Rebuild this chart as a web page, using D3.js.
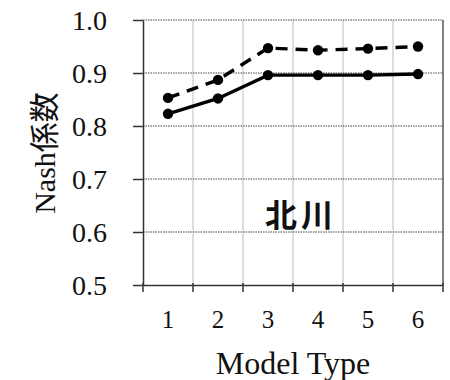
<!DOCTYPE html>
<html>
<head>
<meta charset="utf-8">
<script src="https://cdn.jsdelivr.net/npm/d3@7"></script>
<style>
body { margin: 0; background: #fff; }
</style>
</head>
<body>
<script>
var modelTypes = [1, 2, 3, 4, 5, 6];
var solidValues = [0.823, 0.852, 0.896, 0.896, 0.896, 0.898];
var dashedValues = [0.853, 0.887, 0.947, 0.943, 0.946, 0.950];
var yTicks = [0.5, 0.6, 0.7, 0.8, 0.9, 1.0];

var width = 450, height = 380;
var margin = {top: 20, right: 7, bottom: 95, left: 143};

var svg = d3.select('body').append('svg')
	.attr('width', width).attr('height', height);

var x = d3.scaleBand()
	.domain(modelTypes)
	.range([margin.left, width - margin.right]);
var y = d3.scaleLinear()
	.domain([0.5, 1.0])
	.range([height - margin.bottom, margin.top]);

var serif = '"Liberation Serif", "Times New Roman", serif';

// vertical grid at category boundaries
svg.append('g').selectAll('line')
	.data(modelTypes.slice(1)).enter().append('line')
	.attr('x1', function (d) { return x(d); })
	.attr('x2', function (d) { return x(d); })
	.attr('y1', y(1.0)).attr('y2', y(0.5))
	.attr('stroke', '#c8c8c8').attr('stroke-width', 1.2);

// horizontal dotted grid
svg.append('g').selectAll('line')
	.data(yTicks.slice(1)).enter().append('line')
	.attr('x1', x.range()[0]).attr('x2', x.range()[1])
	.attr('y1', function (d) { return y(d); })
	.attr('y2', function (d) { return y(d); })
	.attr('stroke', '#444').attr('stroke-width', 1)
	.attr('stroke-dasharray', '1.5,1');

// right border
svg.append('line')
	.attr('x1', x.range()[1]).attr('x2', x.range()[1])
	.attr('y1', y(1.0)).attr('y2', y(0.5))
	.attr('stroke', '#555').attr('stroke-width', 1.5);

// y axis
var yAxis = svg.append('g')
	.attr('transform', 'translate(' + margin.left + ',0)')
	.call(d3.axisLeft(y).tickValues(yTicks).tickFormat(d3.format('.1f')).tickSize(10).tickSizeOuter(0));
yAxis.select('.domain').attr('stroke', '#333').attr('stroke-width', 1.5);
yAxis.selectAll('.tick line').attr('stroke', '#333').attr('stroke-width', 1.5);
yAxis.selectAll('.tick text')
	.attr('font-family', serif).attr('font-size', 28).attr('fill', '#111')
	.attr('x', -36).attr('dy', '0.33em');

// x axis
var xAxis = svg.append('g')
	.attr('transform', 'translate(0,' + (height - margin.bottom) + ')')
	.call(d3.axisBottom(x).tickSize(0).tickSizeOuter(0));
xAxis.select('.domain').attr('stroke', '#333').attr('stroke-width', 1.5);
xAxis.selectAll('.tick text')
	.attr('font-family', serif).attr('font-size', 25).attr('fill', '#111')
	.attr('y', 43).attr('dy', 0);
xAxis.selectAll('.bound')
	.data(modelTypes.concat([null])).enter().append('line')
	.attr('x1', function (d, i) { return x.range()[0] + i * x.bandwidth(); })
	.attr('x2', function (d, i) { return x.range()[0] + i * x.bandwidth(); })
	.attr('y1', -2).attr('y2', 7)
	.attr('stroke', '#333').attr('stroke-width', 1.5);

// axis titles
svg.append('text')
	.attr('x', x.range()[0] + (x.range()[1] - x.range()[0]) / 2)
	.attr('y', 374)
	.attr('text-anchor', 'middle')
	.attr('font-family', serif).attr('font-size', 32).attr('fill', '#111')
	.text('Model Type');

svg.append('text')
	.attr('transform', 'translate(55,153) rotate(-90)')
	.attr('text-anchor', 'middle')
	.attr('font-family', '"Liberation Serif", "Noto Sans CJK JP", serif')
	.attr('font-size', 30).attr('fill', '#111')
	.text('Nash係数');

svg.append('text')
	.attr('x', 301).attr('y', 227)
	.attr('text-anchor', 'middle')
	.attr('font-family', '"Noto Sans CJK JP", sans-serif')
	.attr('font-weight', 'bold')
	.attr('font-size', 32).attr('fill', '#111')
	.attr('letter-spacing', 4)
	.text('北川');

// series
var line = d3.line()
	.x(function (d, i) { return x(modelTypes[i]) + x.bandwidth() / 2; })
	.y(function (d) { return y(d); });

[{values: dashedValues, dash: '12,8'}, {values: solidValues, dash: null}].forEach(function (s) {
	svg.append('path')
		.datum(s.values)
		.attr('fill', 'none')
		.attr('stroke', '#000')
		.attr('stroke-width', 3.4)
		.attr('stroke-dasharray', s.dash)
		.attr('d', line);
	svg.append('g').selectAll('circle')
		.data(s.values).enter().append('circle')
		.attr('cx', function (d, i) { return x(modelTypes[i]) + x.bandwidth() / 2; })
		.attr('cy', function (d) { return y(d); })
		.attr('r', 5.2)
		.attr('fill', '#000');
});
</script>
</body>
</html>
